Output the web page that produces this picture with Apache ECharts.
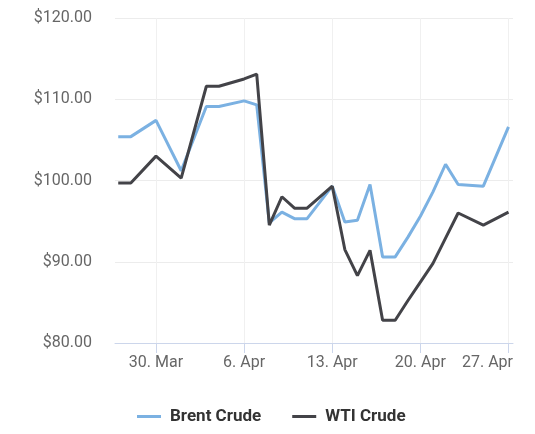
<!DOCTYPE html>
<html>
<head>
<meta charset="utf-8">
<script src="https://cdn.jsdelivr.net/npm/echarts@6/dist/echarts.min.js"></script>
<style>
html,body{margin:0;padding:0;background:#fff;}
#chart{width:535px;height:434px;}
</style>
</head>
<body>
<div id="chart"></div>
<script>
var dates = ['2020-03-27','2020-03-28','2020-03-30','2020-04-01','2020-04-03','2020-04-04','2020-04-06','2020-04-07','2020-04-08','2020-04-09','2020-04-10','2020-04-11','2020-04-13','2020-04-14','2020-04-15','2020-04-16','2020-04-17','2020-04-18','2020-04-19','2020-04-20','2020-04-21','2020-04-22','2020-04-23','2020-04-25','2020-04-27'];
var brent = [105.4,105.4,107.4,101.2,109.1,109.1,109.8,109.3,94.8,96.1,95.3,95.3,99.3,94.9,95.1,99.5,90.6,90.6,93.0,95.6,98.6,102.0,99.5,99.3,106.6];
var wti = [99.7,99.7,103.0,100.3,111.6,111.6,112.5,113.1,94.5,98.0,96.6,96.6,99.3,91.5,88.3,91.4,82.8,82.8,85.2,87.5,89.8,92.9,96.0,94.5,96.1];
var tickDates = ['2020-03-30','2020-04-06','2020-04-13','2020-04-20','2020-04-27'];
var yTicks = [80, 90, 100, 110, 120];
var seriesNames = ['Brent Crude', 'WTI Crude'];
var months = ['Jan','Feb','Mar','Apr','May','Jun','Jul','Aug','Sep','Oct','Nov','Dec'];

function ts(s){ var p = s.split('-'); return Date.UTC(+p[0], +p[1]-1, +p[2]); }
var DAY = 86400000;
var tickTs = tickDates.map(ts);

var chart = echarts.init(document.getElementById('chart'));
chart.setOption({
  animation: false,
  textStyle: { fontFamily: 'Roboto' },
  grid: { left: 115, right: 22, top: 18, bottom: 91 },
  xAxis: {
    type: 'value',
    min: ts(dates[0]) - 0.257 * DAY,
    max: ts(dates[dates.length-1]) + 0.357 * DAY,
    axisLine: { lineStyle: { color: '#ccd6eb', width: 1 } },
    axisTick: { show: true, length: 10, customValues: tickTs, lineStyle: { color: '#ccd6eb' } },
    axisLabel: {
      customValues: tickTs,
      margin: 12,
      color: '#666666',
      fontSize: 16,
      fontFamily: 'Roboto',
      formatter: function (v) {
        var d = new Date(v);
        var s = d.getUTCDate() + '. ' + months[d.getUTCMonth()];
        return v === tickTs[tickTs.length-1] ? '{last|' + s + '}' : s;
      },
      rich: {
        last: { fontSize: 16, color: '#666666', fontFamily: 'Roboto', padding: [0, 42, 0, 0] }
      }
    },
    splitLine: { show: true, lineStyle: { color: '#f0f0f0', width: 1 } }
  },
  yAxis: {
    type: 'value',
    min: yTicks[0],
    max: yTicks[yTicks.length-1],
    interval: 10,
    axisLine: { show: false },
    axisTick: { show: false },
    axisLabel: {
      margin: 23,
      color: '#666666',
      fontSize: 16,
      fontFamily: 'Roboto',
      formatter: function (v) { return '$' + v.toFixed(2); }
    },
    splitLine: { lineStyle: { color: '#ececec', width: 1 } }
  },
  legend: {
    left: 132,
    top: 403,
    icon: 'rect',
    itemWidth: 24,
    itemHeight: 3,
    itemGap: 31,
    textStyle: { fontSize: 17, fontWeight: 'bold', color: '#333333', fontFamily: 'Roboto', padding: [0,0,0,4] },
    data: seriesNames
  },
  series: [
    {
      name: seriesNames[0], type: 'line', symbol: 'none',
      data: dates.map(function (d, i) { return [ts(d), brent[i]]; }),
      lineStyle: { color: '#7bb1e2', width: 3 }, itemStyle: { color: '#7bb1e2' }
    },
    {
      name: seriesNames[1], type: 'line', symbol: 'none',
      data: dates.map(function (d, i) { return [ts(d), wti[i]]; }),
      lineStyle: { color: '#434348', width: 3 }, itemStyle: { color: '#434348' }
    }
  ]
});
</script>
</body>
</html>
